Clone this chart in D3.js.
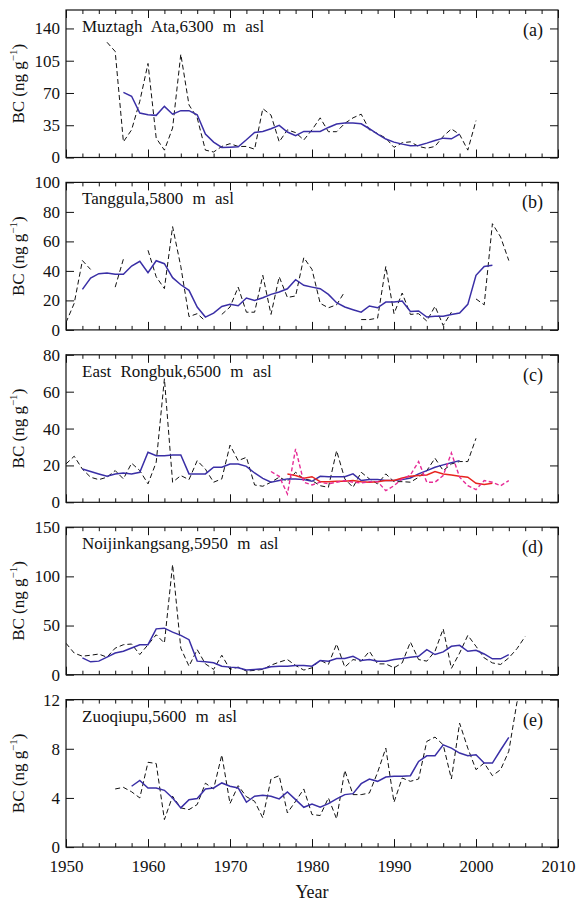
<!DOCTYPE html>
<html>
<head>
<meta charset="utf-8">
<script src="https://cdn.jsdelivr.net/npm/d3@7"></script>
<style>
body { margin: 0; background: #fff; }
svg text { font-family: "Liberation Serif", "Times New Roman", Times, serif !important; fill: #111; }
</style>
</head>
<body>
<svg id="chart" width="577" height="904" font-family="Liberation Serif, Times New Roman, serif"></svg>
<script>
// site labels, panel letters, y axes
const siteNames = ["Muztagh Ata,6300 m asl", "Tanggula,5800 m asl", "East Rongbuk,6500 m asl", "Noijinkangsang,5950 m asl", "Zuoqiupu,5600 m asl"]
const panelLetters = ["(a)", "(b)", "(c)", "(d)", "(e)"]
const yMax = [160, 100, 80, 150, 12]
const yTicks = [[0, 35, 70, 105, 140], [0, 20, 40, 60, 80, 100], [0, 20, 40, 60, 80], [0, 50, 100, 150], [0, 4, 8, 12]]
const yearTicks = [1950, 1960, 1970, 1980, 1990, 2000, 2010]

// (a) Muztagh Ata
const aDash = [[1955,125],[1956,115],[1957,17],[1958,30],[1959,61],[1960,102],[1961,21],[1962,8],[1963,32],[1964,112],
  [1965,57],[1966,43],[1967,8],[1968,6],[1969,12],[1970,15],[1971,12],[1972,12],[1973,9],[1974,53],[1975,46],[1976,17],
  [1977,30],[1978,27],[1979,19],[1980,30],[1981,43],[1982,28],[1983,28],[1984,37],[1985,43],[1986,47],[1987,30],[1988,26],
  [1989,21],[1990,11],[1991,16],[1992,17],[1993,12],[1994,10],[1995,12],[1996,23],[1997,31],[1998,25],[1999,8],[2000,40]]
const aBlue = [[1957,70.7],[1958,66.4],[1959,48.2],[1960,46.4],[1961,45.7],[1962,55.5],[1963,47],[1964,50.8],[1965,50.8],
  [1966,46.4],[1967,25.4],[1968,16.7],[1969,10.9],[1970,11.2],[1971,11.6],[1972,19.2],[1973,27.2],[1974,28.3],[1975,31.2],
  [1976,34.8],[1977,27.6],[1978,23.6],[1979,28.3],[1980,28.3],[1981,28.3],[1982,32.6],[1983,36.3],[1984,37.4],[1985,37.4],
  [1986,36.6],[1987,31.2],[1988,25.4],[1989,20],[1990,16.7],[1991,14.5],[1992,12.7],[1993,13],[1994,15.6],[1995,18.5],
  [1996,21],[1997,20.3],[1998,25.4]]

// (b) Tanggula
const bDash = [[1950,5],[1951,18],[1952,47],[1953,41],[1954,null],[1955,null],[1956,29],[1957,48],[1958,null],[1959,null],
  [1960,54],[1961,36],[1962,28],[1963,70],[1964,43],[1965,9],[1966,11],[1967,6],[1968,null],[1969,10.5],[1970,15.5],
  [1971,29],[1972,12],[1973,12],[1974,37],[1975,10.5],[1976,36],[1977,22],[1978,23],[1979,49],[1980,41],[1981,18],
  [1982,15],[1983,17],[1984,26],[1985,null],[1986,7],[1987,7],[1988,8],[1989,43],[1990,11],[1991,25],[1992,10.5],
  [1993,11],[1994,6],[1995,16],[1996,3],[1997,12],[1998,null],[1999,null],[2000,21],[2001,17],[2002,72],[2003,63],[2004,47]]
const bBlue = [[1952,27.5],[1953,35.2],[1954,38.1],[1955,38.6],[1956,37.7],[1957,37.7],[1958,43.3],[1959,46.5],[1960,38.8],
  [1961,46.9],[1962,44.9],[1963,35.4],[1964,30.6],[1965,26.8],[1966,15.5],[1967,8.7],[1968,11.4],[1969,15.9],[1970,17.3],
  [1971,16.4],[1972,21.6],[1973,20],[1974,21.8],[1975,24.1],[1976,25.7],[1977,27.9],[1978,34],[1979,30.2],[1980,29],
  [1981,27.9],[1982,24.1],[1983,18.4],[1984,15.5],[1985,13.7],[1986,12],[1987,16.2],[1988,15],[1989,18.9],[1990,18.9],
  [1991,19.6],[1992,12.5],[1993,12.8],[1994,8.7],[1995,9.2],[1996,9.2],[1997,10.5],[1998,11.4],[1999,17.3],[2000,37],
  [2001,43],[2002,43.8]]

// (c) East Rongbuk
const cDash = [[1950,20.8],[1951,25],[1952,18],[1953,13.6],[1954,12.3],[1955,13.6],[1956,17.2],[1957,12.7],[1958,21.2],
  [1959,17.2],[1960,10],[1961,21.7],[1962,67],[1963,10.9],[1964,14.5],[1965,12.3],[1966,22.6],[1967,18],[1968,10.9],
  [1969,12.7],[1970,31],[1971,22.6],[1972,24.4],[1973,9.4],[1974,8.7],[1975,10.9],[1976,13.6],[1977,11.4],[1978,16.3],
  [1979,12.7],[1980,11.8],[1981,9],[1982,8.1],[1983,28],[1984,12.7],[1985,8.1],[1986,16.3],[1987,12.7],[1988,10],
  [1989,15.4],[1990,11.2],[1991,11.2],[1992,10.9],[1993,13.6],[1994,17.2],[1995,23.9],[1996,17.2],[1997,20.8],[1998,22.1],
  [1999,22.1],[2000,34.7]]
const cBlue = [[1952,18.1],[1953,16.7],[1954,15.4],[1955,14.1],[1956,15.4],[1957,15.9],[1958,15.4],[1959,16.3],[1960,27.1],
  [1961,25.3],[1962,25.3],[1963,25.7],[1964,25.7],[1965,15.4],[1966,15.4],[1967,15.4],[1968,19],[1969,19],[1970,20.8],
  [1971,20.8],[1972,19.5],[1973,15.9],[1974,13],[1975,10.9],[1976,11.8],[1977,12.7],[1978,12.7],[1979,12.3],[1980,11.4],
  [1981,14.1],[1982,13.9],[1983,13.9],[1984,13.9],[1985,15.4],[1986,11.8],[1987,12.3],[1988,12.3],[1989,11.8],[1990,11.8],
  [1991,12.3],[1992,13.2],[1993,15.4],[1994,17.2],[1995,19],[1996,20.3],[1997,21.4],[1998,22.6]]
const cRed = [[1977,15.4],[1978,14.5],[1979,13],[1980,13.9],[1981,11.2],[1982,11.2],[1983,11.4],[1984,11.4],[1985,11.8],
  [1986,11.2],[1987,10.9],[1988,11.2],[1989,11.8],[1990,11.8],[1991,13.2],[1992,14.1],[1993,14.5],[1994,14.8],[1995,16.7],
  [1996,15.4],[1997,14.8],[1998,14.1],[1999,13.6],[2000,10.3],[2001,9.6],[2002,10.3]]
const cPink = [[1975,16.7],[1976,14.1],[1977,4.5],[1978,29],[1979,10.9],[1980,9.4],[1981,10.9],[1982,10],[1983,10.9],
  [1984,11.8],[1985,10.9],[1986,10.5],[1987,11.2],[1988,11.2],[1989,6.3],[1990,9],[1991,12.7],[1992,14.8],[1993,22.1],
  [1994,10.9],[1995,10.9],[1996,14.5],[1997,26.8],[1998,13.6],[1999,9],[2000,6.9],[2001,11.8],[2002,10.9],[2003,9],[2004,11.8]]

// (d) Noijinkangsang
const dDash = [[1950,32],[1951,22],[1952,18.8],[1953,19.8],[1954,21],[1955,17.8],[1956,27],[1957,30.5],[1958,31.2],
  [1959,20.5],[1960,30.5],[1961,40.6],[1962,32.2],[1963,112],[1964,27],[1965,8.7],[1966,25.5],[1967,11],[1968,5.4],
  [1969,19.8],[1970,5.4],[1971,7.7],[1972,3.7],[1973,4.4],[1974,5.4],[1975,9.7],[1976,12.8],[1977,15.4],[1978,9.4],
  [1979,4.7],[1980,7],[1981,14.8],[1982,10.4],[1983,31.2],[1984,7.7],[1985,15.4],[1986,13.8],[1987,23.8],[1988,11],
  [1989,11],[1990,7],[1991,12],[1992,33.2],[1993,15.4],[1994,13.8],[1995,23.8],[1996,46.6],[1997,6.4],[1998,22],
  [1999,40],[2000,28.9],[2001,17.1],[2002,12],[2003,10.4],[2004,17.1],[2005,26.5],[2006,38.9]]
const dBlue = [[1952,17.1],[1953,13.1],[1954,13.8],[1955,17.8],[1956,22.1],[1957,23.8],[1958,27.2],[1959,30.5],[1960,30.5],
  [1961,46.6],[1962,47.3],[1963,43.3],[1964,40],[1965,35.6],[1966,13.8],[1967,13.1],[1968,12.1],[1969,8.7],[1970,7.7],
  [1971,7],[1972,4.7],[1973,5.4],[1974,6],[1975,8],[1976,8.7],[1977,8.7],[1978,9.4],[1979,9.4],[1980,8.7],[1981,14.4],
  [1982,13.8],[1983,16.4],[1984,16.4],[1985,18.8],[1986,14.4],[1987,15.4],[1988,13.8],[1989,13.8],[1990,15.4],[1991,16.4],
  [1992,17.8],[1993,18.8],[1994,25.5],[1995,20.5],[1996,23.2],[1997,28.9],[1998,29.9],[1999,23.8],[2000,24.8],[2001,21.1],
  [2002,16.1],[2003,16.1],[2004,20.5]]

// (e) Zuoqiupu
const eDash = [[1956,4.73],[1957,4.86],[1958,4.5],[1959,4.0],[1960,6.9],[1961,6.8],[1962,2.24],[1963,4.14],[1964,3.19],
  [1965,3.05],[1966,3.46],[1967,5.2],[1968,4.73],[1969,7.5],[1970,3.54],[1971,5.0],[1972,4.1],[1973,3.73],[1974,2.38],
  [1975,5.54],[1976,5.81],[1977,2.78],[1978,3.73],[1979,4.73],[1980,2.65],[1981,2.57],[1982,4.0],[1983,2.3],[1984,6.24],
  [1985,4.27],[1986,4.27],[1987,4.4],[1988,6.08],[1989,8.05],[1990,3.65],[1991,5.62],[1992,5.35],[1993,5.54],[1994,8.6],
  [1995,8.95],[1996,8.32],[1997,5.54],[1998,10.08],[1999,8.05],[2000,6.3],[2001,6.84],[2002,5.81],[2003,6.3],[2004,7.8],
  [2005,11.8],[2006,13.2]]
const eBlue = [[1958,4.95],[1959,5.43],[1960,4.81],[1961,4.81],[1962,4.62],[1963,4.0],[1964,3.19],[1965,3.86],[1966,3.95],
  [1967,4.73],[1968,4.81],[1969,5.22],[1970,4.95],[1971,4.81],[1972,3.65],[1973,4.14],[1974,4.22],[1975,4.14],[1976,3.92],
  [1977,4.49],[1978,3.86],[1979,3.24],[1980,3.51],[1981,3.24],[1982,3.54],[1983,3.92],[1984,4.27],[1985,4.35],[1986,5.16],
  [1987,5.54],[1988,5.35],[1989,5.7],[1990,5.76],[1991,5.76],[1992,5.81],[1993,6.97],[1994,7.43],[1995,7.43],[1996,8.32],
  [1997,8.05],[1998,7.65],[1999,7.43],[2000,7.51],[2001,6.84],[2002,6.84],[2003,7.9],[2004,8.92]]

let styles = {
  dash: {stroke: "#111", width: 1, dash: "5,3"},
  blue: {stroke: "#3a2fa6", width: 1.5, dash: null},
  red:  {stroke: "#e8251f", width: 1.5, dash: null},
  pink: {stroke: "#e62c96", width: 1.4, dash: "4,2.5"}
}

let panels = [
  [["dash", aDash], ["blue", aBlue]],
  [["dash", bDash], ["blue", bBlue]],
  [["dash", cDash], ["blue", cBlue], ["red", cRed], ["pink", cPink]],
  [["dash", dDash], ["blue", dBlue]],
  [["dash", eDash], ["blue", eBlue]]
]

let svg = d3.select("#chart")
let left = 66, right = 558, ph = 147.5, gap = 172.4, firstTop = 10
let serif = "'Liberation Serif', 'Times New Roman', serif"

let x = d3.scaleLinear().domain([1950, 2010]).range([left, right])
let minorYears = d3.range(1950, 2011, 2)

panels.forEach((series, i) => {
  let top = firstTop + i * gap
  let bottom = top + ph
  let y = d3.scaleLinear().domain([0, yMax[i]]).range([bottom, top])

  let g = svg.append("g")

  g.append("clipPath").attr("id", "clip" + i)
    .append("rect").attr("x", left).attr("y", top).attr("width", right - left).attr("height", ph)

  // ticks, all pointing inward
  let tb = g.append("g").attr("transform", "translate(0," + bottom + ")")
  tb.call(d3.axisBottom(x).tickValues(minorYears).tickSize(-4).tickFormat(""))
  tb.append("g").call(d3.axisBottom(x).tickValues(yearTicks).tickSize(-8).tickPadding(13)
    .tickFormat(i == 4 ? d3.format("d") : ""))

  let tt = g.append("g").attr("transform", "translate(0," + top + ")")
  tt.call(d3.axisTop(x).tickValues(minorYears).tickSize(-4).tickFormat(""))
  tt.append("g").call(d3.axisTop(x).tickValues(yearTicks).tickSize(-8).tickFormat(""))

  g.append("g").attr("transform", "translate(" + left + ",0)")
    .call(d3.axisLeft(y).tickValues(yTicks[i]).tickSize(-8).tickPadding(6))
  g.append("g").attr("transform", "translate(" + right + ",0)")
    .call(d3.axisRight(y).tickValues(yTicks[i]).tickSize(-8).tickFormat(""))

  g.selectAll(".domain").remove()
  g.selectAll("g").attr("font-family", serif)
  g.selectAll(".tick line").attr("stroke", "#111").attr("stroke-width", 1)
  g.selectAll(".tick text").attr("font-size", "17px").attr("fill", "#111")
    .style("font-family", serif)

  let line = d3.line()
    .defined(d => d[1] != null)
    .x(d => x(d[0]))
    .y(d => y(d[1]))

  series.forEach(([kind, data]) => {
    let s = styles[kind]
    g.append("path")
      .attr("clip-path", "url(#clip" + i + ")")
      .attr("d", line(data))
      .attr("fill", "none")
      .attr("stroke", s.stroke)
      .attr("stroke-width", s.width)
      .attr("stroke-dasharray", s.dash)
  })

  g.append("rect")
    .attr("x", left).attr("y", top).attr("width", right - left).attr("height", ph)
    .attr("fill", "none").attr("stroke", "#111").attr("stroke-width", 1.2)

  g.append("text")
    .attr("x", left + 16).attr("y", top + 22)
    .attr("font-size", "17px")
    .attr("word-spacing", "5px")
    .style("font-family", serif)
    .text(siteNames[i])

  g.append("text")
    .attr("x", right - 15).attr("y", top + 26)
    .attr("text-anchor", "end")
    .attr("font-size", "18px")
    .style("font-family", serif)
    .text(panelLetters[i])

  let ylab = g.append("text")
    .attr("transform", "translate(24," + (top + ph / 2) + ") rotate(-90)")
    .attr("text-anchor", "middle")
    .attr("font-size", "17px")
    .style("font-family", serif)
  ylab.append("tspan").text("BC (ng g")
  ylab.append("tspan").attr("font-size", "11px").attr("dy", "-7").text("\u22121")
  ylab.append("tspan").attr("dy", "7").text(")")
})

svg.append("text")
  .attr("x", (left + right) / 2).attr("y", 898)
  .attr("text-anchor", "middle")
  .attr("font-size", "18px")
  .style("font-family", serif)
  .text("Year")
</script>
</body>
</html>
